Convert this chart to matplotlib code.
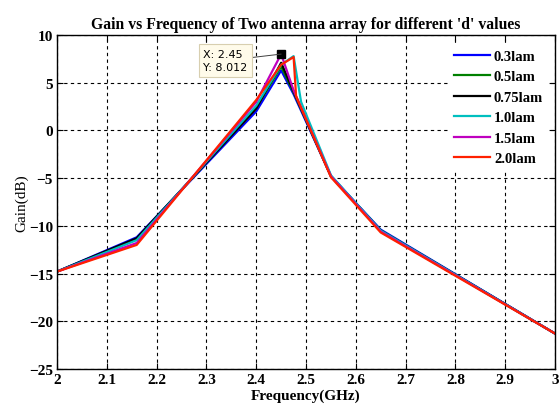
import numpy as np
import matplotlib.pyplot as plt

# frequency points (GHz)
freq = [2.0, 2.16, 2.4, 2.45, 2.475, 2.55, 2.65, 3.0]
freq_cyan = [2.0, 2.16, 2.4, 2.45, 2.475, 2.49, 2.55, 2.65, 3.0]
freq_red = [2.0, 2.16, 2.4, 2.45, 2.475, 2.48, 2.55, 2.65, 3.0]

# gain (dB)
gain_03 = [-14.8, -11.2, 2.0, 6.3, 3.8, -4.8, -10.4, -21.3]
gain_05 = [-14.8, -11.4, 2.4, 6.7, 4.0, -4.8, -10.5, -21.3]
gain_075 = [-14.8, -11.3, 2.3, 7.1, 4.1, -4.8, -10.5, -21.3]
gain_10 = [-14.8, -11.5, 2.6, 6.9, 7.8, 3.0, -4.7, -10.5, -21.3]
gain_15 = [-14.8, -11.8, 3.0, 8.012, 4.2, -4.8, -10.6, -21.3]
gain_20 = [-14.8, -12.0, 3.2, 6.9, 7.7, 3.6, -4.9, -10.7, -21.3]

labels = ['0.3lam', '0.5lam', '0.75lam', '1.0lam', '1.5lam', '2.0lam']
colors = ['#0000ff', '#008000', '#000000', '#00bfbf', '#bf00bf', '#ff2000']

series = [
    (freq, gain_03),
    (freq, gain_05),
    (freq, gain_075),
    (freq_cyan, gain_10),
    (freq, gain_15),
    (freq_red, gain_20),
]

tip_x, tip_y = 2.45, 8.012

plt.rcParams['font.family'] = ['Liberation Serif', 'DejaVu Serif']

fig = plt.figure(figsize=(5.59, 4.06), dpi=100)
ax = fig.add_axes([0.102, 0.089, 0.891, 0.822])

for (x, y), lab, c in zip(series, labels, colors):
    ax.plot(x, y, color=c, lw=1.6, label=lab)

ax.set_xlim(2, 3)
ax.set_ylim(-25, 10)
ax.set_xticks(np.arange(2, 3.01, 0.1))
ax.set_xticklabels(['2', '2.1', '2.2', '2.3', '2.4', '2.5', '2.6', '2.7', '2.8', '2.9', '3'])
ax.set_yticks(np.arange(-25, 11, 5))
ax.grid(True, color='black', linestyle=(0, (3, 3)), lw=0.8)
ax.tick_params(direction='in', length=4, width=0.8, labelsize=11, pad=3,
               top=True, right=True)
for t in ax.get_xticklabels() + ax.get_yticklabels():
    t.set_fontweight('bold')
for s in ax.spines.values():
    s.set_linewidth(1.0)

ax.set_title("Gain vs Frequency of Two antenna array for different 'd' values",
             fontsize=11.3, fontweight='bold', pad=5)
ax.set_xlabel('Frequency(GHz)', fontsize=11, fontweight='bold', labelpad=2)
ax.set_ylabel('Gain(dB)', fontsize=11, labelpad=0)

leg = ax.legend(loc='upper right', bbox_to_anchor=(0.985, 0.97),
                prop={'weight': 'bold', 'size': 10.5},
                handlelength=2.5, handletextpad=0.25, frameon=True, fancybox=False,
                edgecolor='white', framealpha=1, borderaxespad=0.0,
                borderpad=0.3, labelspacing=0.5)

# data tip
ax.plot([tip_x], [tip_y], marker='s', color='black', markersize=6, zorder=5)
ax.annotate(f'X: {tip_x}\nY: {tip_y}', xy=(tip_x, tip_y), xytext=(2.294, 6.3),
            fontsize=8, family='DejaVu Sans', linespacing=1.45,
            bbox=dict(boxstyle='square,pad=0.4', fc='#fffbea', ec='#d8cfb0', lw=0.8),
            arrowprops=dict(arrowstyle='-', color='#404040', lw=0.7,
                            shrinkA=0, shrinkB=0),
            zorder=6)

fig.savefig('out.png', dpi=100)
